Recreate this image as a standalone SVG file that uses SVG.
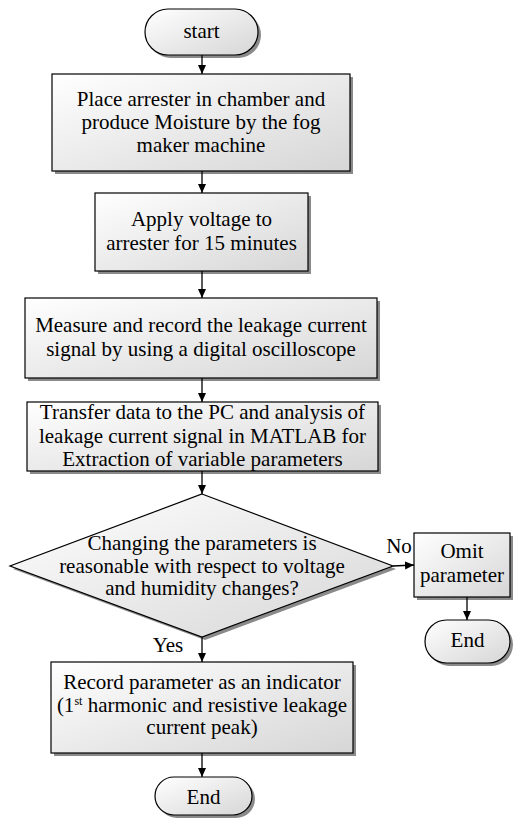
<svg xmlns="http://www.w3.org/2000/svg" width="521" height="818" viewBox="0 0 521 818">
<defs>
<linearGradient id="g" x1="0" y1="0" x2="1" y2="1">
<stop offset="0" stop-color="#ffffff"/>
<stop offset="1" stop-color="#d6d6d6"/>
</linearGradient>
<marker id="ah" markerWidth="10" markerHeight="10" refX="9" refY="5" orient="auto" markerUnits="userSpaceOnUse">
<path d="M0,1 L9,5 L0,9 Z" fill="#000"/>
</marker>
<style>
.shape{fill:url(#g);stroke:#000;stroke-width:1.2}
.shadow{fill:#8a8a8a;stroke:none}
.t{font-family:"Liberation Serif","Times New Roman",serif;font-size:21px;fill:#000;text-anchor:middle}
.c{stroke:#000;stroke-width:1.3;fill:none;marker-end:url(#ah)}
</style>
</defs>
<rect width="521" height="818" fill="#fff"/>
<g id="start">
<rect class="shadow" x="148" y="12" width="113" height="46" rx="23"/>
<rect class="shape" x="145" y="9" width="113" height="46" rx="23"/>
<text class="t" x="201.5" y="38">start</text>
</g>
<g id="box1">
<rect class="shadow" x="55" y="77" width="298" height="97"/>
<rect class="shape" x="52" y="74" width="298" height="97"/>
<text class="t" x="201" y="106">Place arrester in chamber and</text>
<text class="t" x="201" y="129">produce Moisture by the fog</text>
<text class="t" x="201" y="152">maker machine</text>
</g>
<g id="box2">
<rect class="shadow" x="98" y="196" width="213" height="78"/>
<rect class="shape" x="95" y="193" width="213" height="78"/>
<text class="t" x="201.5" y="226">Apply voltage to</text>
<text class="t" x="201.5" y="250">arrester for 15 minutes</text>
</g>
<g id="box3">
<rect class="shadow" x="28" y="301" width="352" height="80"/>
<rect class="shape" x="25" y="298" width="352" height="80"/>
<text class="t" x="201" y="332">Measure and record the leakage current</text>
<text class="t" x="201" y="356">signal by using a digital oscilloscope</text>
</g>
<g id="box4">
<rect class="shadow" x="30" y="405" width="351" height="69"/>
<rect class="shape" x="27" y="402" width="351" height="69"/>
<text class="t" x="202.5" y="419">Transfer data to the PC and analysis of</text>
<text class="t" x="202.5" y="443">leakage current signal in MATLAB for</text>
<text class="t" x="202.5" y="466">Extraction of variable parameters</text>
</g>
<g id="decision">
<polygon class="shadow" points="205,497 396,569 205,640 13,569"/>
<polygon class="shape" points="202,494 393,566 202,637 10,566"/>
<text class="t" x="202" y="550">Changing the parameters is</text>
<text class="t" x="202" y="573">reasonable with respect to voltage</text>
<text class="t" x="202" y="595">and humidity changes?</text>
</g>
<g id="omit">
<rect class="shadow" x="417" y="536" width="96" height="64"/>
<rect class="shape" x="414" y="533" width="96" height="64"/>
<text class="t" x="462" y="558">Omit</text>
<text class="t" x="462" y="582">parameter</text>
</g>
<g id="end1">
<rect class="shadow" x="428" y="623" width="85" height="43" rx="21.5"/>
<rect class="shape" x="425" y="620" width="85" height="43" rx="21.5"/>
<text class="t" x="467.5" y="647">End</text>
</g>
<g id="box5">
<rect class="shadow" x="54" y="665" width="302" height="91"/>
<rect class="shape" x="51" y="662" width="302" height="91"/>
<text class="t" x="202" y="689">Record parameter as an indicator</text>
<text class="t" x="202" y="712">(1<tspan font-size="12" dy="-7">st</tspan><tspan dy="7"> harmonic and resistive leakage</tspan></text>
<text class="t" x="202" y="734">current peak)</text>
</g>
<g id="end2">
<rect class="shadow" x="158" y="780" width="97" height="38" rx="19"/>
<rect class="shape" x="155" y="777" width="97" height="38" rx="19"/>
<text class="t" x="203.5" y="804">End</text>
</g>
<g id="connectors">
<line class="c" x1="202" y1="55" x2="202" y2="74"/>
<line class="c" x1="202" y1="171" x2="202" y2="193"/>
<line class="c" x1="202" y1="271" x2="202" y2="298"/>
<line class="c" x1="202" y1="378" x2="202" y2="402"/>
<line class="c" x1="202" y1="471" x2="202" y2="494"/>
<line class="c" x1="393" y1="566" x2="414" y2="565"/>
<line class="c" x1="467" y1="597" x2="467" y2="620"/>
<line class="c" x1="202" y1="637" x2="202" y2="662"/>
<line class="c" x1="202" y1="753" x2="202" y2="777"/>
<text class="t" x="399" y="553">No</text>
<text class="t" x="168" y="652">Yes</text>
</g>
</svg>
